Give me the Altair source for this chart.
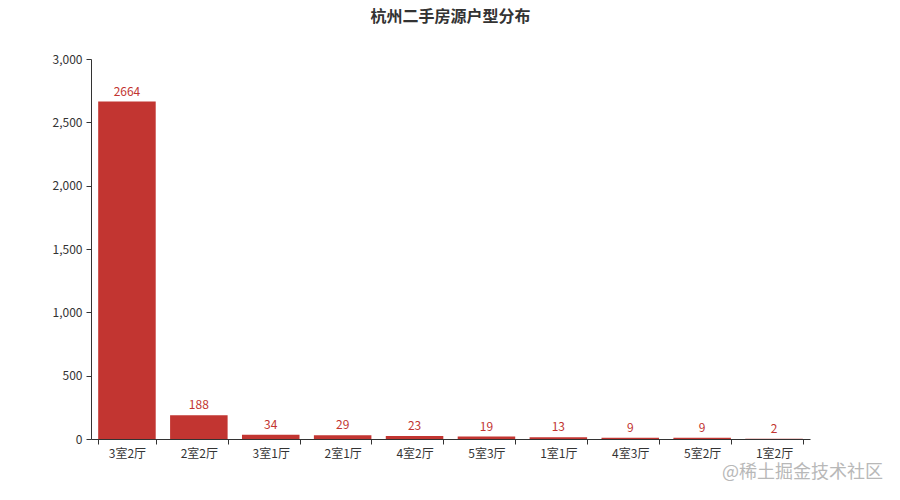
import altair as alt
import pandas as pd

categories = ["3室2厅", "2室2厅", "3室1厅", "2室1厅", "4室2厅", "5室3厅", "1室1厅", "4室3厅", "5室2厅", "1室2厅"]
counts = [2664, 188, 34, 29, 23, 19, 13, 9, 9, 2]

df = pd.DataFrame({"type": categories, "count": counts})
FONT = "Noto Sans CJK SC"
RED = "#c23531"

x = alt.X("type:N", sort=categories,
          scale=alt.Scale(paddingInner=0.2, paddingOuter=0.1),
          axis=alt.Axis(title=None, labelAngle=0, tickBand="extent", labelColor="#333",
                        domainColor="#333", tickColor="#333", labelFont=FONT, labelFontSize=12,
                        labelPadding=4, tickSize=5))
y = alt.Y("count:Q", scale=alt.Scale(domain=[0, 3000]),
          axis=alt.Axis(title=None, values=[0, 500, 1000, 1500, 2000, 2500, 3000], format=",.0f",
                        grid=False, labelColor="#333", domainColor="#333", tickColor="#333",
                        labelFont=FONT, labelFontSize=12, tickSize=5, labelPadding=4,
                        minExtent=83, maxExtent=83))

base = alt.Chart(df)
bars = base.mark_bar(color=RED).encode(x=x, y=y)
labels = base.mark_text(color=RED, dy=-10, font=FONT, fontSize=12).encode(
    x=alt.X("type:N", sort=categories), y="count:Q", text="count:Q")

wm = alt.Chart(pd.DataFrame({"t": ["@稀土掘金技术社区"]})).mark_text(
    font=FONT, fontSize=18, color="#b8b8b8", align="right", baseline="middle"
).encode(x=alt.value(792), y=alt.value(414), text="t:N")

chart = alt.layer(bars, labels, wm).properties(
    width=719, height=380,
    padding={"left": 0, "top": 1, "right": 0, "bottom": 0},
    title=alt.TitleParams("杭州二手房源户型分布", font=FONT, fontSize=16, fontWeight="bold",
                          color="#333", anchor="middle", offset=28),
).configure_view(stroke=None)

chart.save("out.html", embed_options={"renderer": "svg", "actions": False})
